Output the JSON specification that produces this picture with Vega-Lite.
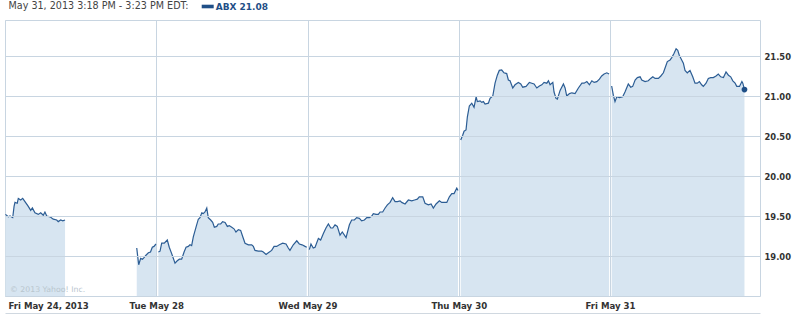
{
  "$schema": "https://vega.github.io/schema/vega-lite/v6.json",
  "width": 755,
  "height": 276,
  "autosize": {"type": "none"},
  "padding": {"left": 5, "top": 20, "right": 35, "bottom": 18},
  "background": "white",
  "config": {
    "view": {"stroke": "#c8d5e1", "strokeWidth": 1},
    "font": "DejaVu Sans"
  },
  "title": {
    "text": "May 31, 2013 3:18 PM - 3:23 PM EDT:",
    "anchor": "start",
    "frame": "group",
    "font": "DejaVu Sans",
    "fontSize": 9.6,
    "fontWeight": "normal",
    "color": "#444444",
    "baseline": "alphabetic",
    "offset": -18.5,
    "dx": 3.5
  },
  "datasets": {
    "abx": [
      {"seg":"a","t":0.003,"price":19.52},{"seg":"a","t":0.022,"price":19.49},{"seg":"a","t":0.033,"price":19.50},{"seg":"a","t":0.051,"price":19.48},{"seg":"a","t":0.060,"price":19.62},{"seg":"a","t":0.066,"price":19.67},{"seg":"a","t":0.081,"price":19.66},{"seg":"a","t":0.088,"price":19.72},{"seg":"a","t":0.104,"price":19.70},{"seg":"a","t":0.117,"price":19.72},{"seg":"a","t":0.132,"price":19.68},{"seg":"a","t":0.154,"price":19.62},{"seg":"a","t":0.170,"price":19.57},{"seg":"a","t":0.181,"price":19.60},{"seg":"a","t":0.198,"price":19.54},{"seg":"a","t":0.220,"price":19.52},{"seg":"a","t":0.236,"price":19.54},{"seg":"a","t":0.253,"price":19.51},{"seg":"a","t":0.264,"price":19.55},{"seg":"a","t":0.276,"price":19.50},{"seg":"a","t":0.298,"price":19.49},{"seg":"a","t":0.319,"price":19.46},{"seg":"a","t":0.342,"price":19.45},{"seg":"a","t":0.352,"price":19.43},{"seg":"a","t":0.368,"price":19.45},{"seg":"a","t":0.382,"price":19.44},{"seg":"a","t":0.397,"price":19.45},
      {"seg":"b","t":0.871,"price":19.10},{"seg":"b","t":0.884,"price":18.89},{"seg":"b","t":0.897,"price":18.97},{"seg":"b","t":0.909,"price":18.96},{"seg":"b","t":0.919,"price":18.98},{"seg":"b","t":0.932,"price":19.01},{"seg":"b","t":0.948,"price":19.04},{"seg":"b","t":0.962,"price":19.05},{"seg":"b","t":0.974,"price":19.11},{"seg":"b","t":0.985,"price":19.12},{"seg":"b","t":0.998,"price":19.15},
      {"seg":"c","t":1.014,"price":19.05},{"seg":"c","t":1.025,"price":19.06},{"seg":"c","t":1.036,"price":19.16},{"seg":"c","t":1.053,"price":19.16},{"seg":"c","t":1.073,"price":19.20},{"seg":"c","t":1.086,"price":19.11},{"seg":"c","t":1.102,"price":19.03},{"seg":"c","t":1.124,"price":18.91},{"seg":"c","t":1.139,"price":18.94},{"seg":"c","t":1.153,"price":18.96},{"seg":"c","t":1.168,"price":18.96},{"seg":"c","t":1.184,"price":19.05},{"seg":"c","t":1.197,"price":19.11},{"seg":"c","t":1.212,"price":19.12},{"seg":"c","t":1.223,"price":19.14},{"seg":"c","t":1.234,"price":19.13},{"seg":"c","t":1.245,"price":19.24},{"seg":"c","t":1.263,"price":19.36},{"seg":"c","t":1.278,"price":19.46},{"seg":"c","t":1.289,"price":19.48},{"seg":"c","t":1.301,"price":19.54},{"seg":"c","t":1.311,"price":19.53},{"seg":"c","t":1.322,"price":19.55},{"seg":"c","t":1.334,"price":19.60},{"seg":"c","t":1.344,"price":19.48},{"seg":"c","t":1.360,"price":19.45},{"seg":"c","t":1.373,"price":19.42},{"seg":"c","t":1.384,"price":19.36},{"seg":"c","t":1.400,"price":19.37},{"seg":"c","t":1.410,"price":19.40},{"seg":"c","t":1.426,"price":19.40},{"seg":"c","t":1.439,"price":19.43},{"seg":"c","t":1.455,"price":19.42},{"seg":"c","t":1.470,"price":19.37},{"seg":"c","t":1.483,"price":19.38},{"seg":"c","t":1.499,"price":19.36},{"seg":"c","t":1.514,"price":19.34},{"seg":"c","t":1.527,"price":19.30},{"seg":"c","t":1.543,"price":19.33},{"seg":"c","t":1.558,"price":19.32},{"seg":"c","t":1.572,"price":19.24},{"seg":"c","t":1.587,"price":19.16},{"seg":"c","t":1.609,"price":19.14},{"seg":"c","t":1.631,"price":19.14},{"seg":"c","t":1.642,"price":19.12},{"seg":"c","t":1.653,"price":19.07},{"seg":"c","t":1.675,"price":19.06},{"seg":"c","t":1.697,"price":19.06},{"seg":"c","t":1.708,"price":19.05},{"seg":"c","t":1.726,"price":19.02},{"seg":"c","t":1.741,"price":19.04},{"seg":"c","t":1.763,"price":19.07},{"seg":"c","t":1.779,"price":19.12},{"seg":"c","t":1.796,"price":19.12},{"seg":"c","t":1.814,"price":19.14},{"seg":"c","t":1.836,"price":19.16},{"seg":"c","t":1.858,"price":19.15},{"seg":"c","t":1.873,"price":19.10},{"seg":"c","t":1.884,"price":19.07},{"seg":"c","t":1.906,"price":19.14},{"seg":"c","t":1.929,"price":19.19},{"seg":"c","t":1.946,"price":19.15},{"seg":"c","t":1.964,"price":19.14},{"seg":"c","t":1.984,"price":19.12},{"seg":"c","t":1.995,"price":19.11},
      {"seg":"d","t":2.012,"price":19.08},{"seg":"d","t":2.023,"price":19.15},{"seg":"d","t":2.038,"price":19.10},{"seg":"d","t":2.050,"price":19.11},{"seg":"d","t":2.072,"price":19.22},{"seg":"d","t":2.087,"price":19.20},{"seg":"d","t":2.105,"price":19.28},{"seg":"d","t":2.122,"price":19.35},{"seg":"d","t":2.138,"price":19.40},{"seg":"d","t":2.154,"price":19.35},{"seg":"d","t":2.167,"price":19.35},{"seg":"d","t":2.182,"price":19.39},{"seg":"d","t":2.197,"price":19.37},{"seg":"d","t":2.215,"price":19.26},{"seg":"d","t":2.230,"price":19.30},{"seg":"d","t":2.255,"price":19.23},{"seg":"d","t":2.277,"price":19.39},{"seg":"d","t":2.292,"price":19.45},{"seg":"d","t":2.310,"price":19.45},{"seg":"d","t":2.325,"price":19.48},{"seg":"d","t":2.343,"price":19.47},{"seg":"d","t":2.358,"price":19.44},{"seg":"d","t":2.376,"price":19.45},{"seg":"d","t":2.392,"price":19.48},{"seg":"d","t":2.409,"price":19.48},{"seg":"d","t":2.425,"price":19.50},{"seg":"d","t":2.435,"price":19.53},{"seg":"d","t":2.453,"price":19.52},{"seg":"d","t":2.468,"price":19.52},{"seg":"d","t":2.480,"price":19.55},{"seg":"d","t":2.497,"price":19.55},{"seg":"d","t":2.513,"price":19.60},{"seg":"d","t":2.528,"price":19.64},{"seg":"d","t":2.546,"price":19.67},{"seg":"d","t":2.563,"price":19.73},{"seg":"d","t":2.579,"price":19.68},{"seg":"d","t":2.594,"price":19.68},{"seg":"d","t":2.612,"price":19.69},{"seg":"d","t":2.623,"price":19.67},{"seg":"d","t":2.645,"price":19.65},{"seg":"d","t":2.667,"price":19.70},{"seg":"d","t":2.689,"price":19.69},{"seg":"d","t":2.708,"price":19.70},{"seg":"d","t":2.726,"price":19.71},{"seg":"d","t":2.739,"price":19.74},{"seg":"d","t":2.762,"price":19.74},{"seg":"d","t":2.777,"price":19.66},{"seg":"d","t":2.799,"price":19.64},{"seg":"d","t":2.817,"price":19.65},{"seg":"d","t":2.832,"price":19.60},{"seg":"d","t":2.850,"price":19.65},{"seg":"d","t":2.872,"price":19.69},{"seg":"d","t":2.887,"price":19.67},{"seg":"d","t":2.921,"price":19.67},{"seg":"d","t":2.938,"price":19.74},{"seg":"d","t":2.954,"price":19.78},{"seg":"d","t":2.969,"price":19.78},{"seg":"d","t":2.987,"price":19.85},{"seg":"d","t":2.995,"price":19.82},
      {"seg":"e","t":3.013,"price":20.45},{"seg":"e","t":3.026,"price":20.51},{"seg":"e","t":3.035,"price":20.56},{"seg":"e","t":3.048,"price":20.575},{"seg":"e","t":3.057,"price":20.74},{"seg":"e","t":3.070,"price":20.875},{"seg":"e","t":3.086,"price":20.91},{"seg":"e","t":3.101,"price":20.86},{"seg":"e","t":3.115,"price":20.99},{"seg":"e","t":3.123,"price":20.93},{"seg":"e","t":3.141,"price":20.94},{"seg":"e","t":3.152,"price":20.92},{"seg":"e","t":3.163,"price":20.93},{"seg":"e","t":3.174,"price":20.90},{"seg":"e","t":3.196,"price":20.91},{"seg":"e","t":3.207,"price":20.97},{"seg":"e","t":3.225,"price":21.00},{"seg":"e","t":3.240,"price":21.16},{"seg":"e","t":3.255,"price":21.26},{"seg":"e","t":3.268,"price":21.32},{"seg":"e","t":3.284,"price":21.325},{"seg":"e","t":3.299,"price":21.29},{"seg":"e","t":3.317,"price":21.28},{"seg":"e","t":3.328,"price":21.20},{"seg":"e","t":3.339,"price":21.19},{"seg":"e","t":3.357,"price":21.10},{"seg":"e","t":3.372,"price":21.14},{"seg":"e","t":3.394,"price":21.17},{"seg":"e","t":3.410,"price":21.15},{"seg":"e","t":3.423,"price":21.11},{"seg":"e","t":3.445,"price":21.12},{"seg":"e","t":3.467,"price":21.17},{"seg":"e","t":3.483,"price":21.16},{"seg":"e","t":3.498,"price":21.15},{"seg":"e","t":3.516,"price":21.10},{"seg":"e","t":3.533,"price":21.125},{"seg":"e","t":3.549,"price":21.14},{"seg":"e","t":3.564,"price":21.17},{"seg":"e","t":3.582,"price":21.16},{"seg":"e","t":3.593,"price":21.19},{"seg":"e","t":3.604,"price":21.14},{"seg":"e","t":3.622,"price":21.17},{"seg":"e","t":3.630,"price":21.05},{"seg":"e","t":3.643,"price":20.97},{"seg":"e","t":3.652,"price":20.96},{"seg":"e","t":3.670,"price":21.07},{"seg":"e","t":3.692,"price":21.15},{"seg":"e","t":3.703,"price":21.10},{"seg":"e","t":3.714,"price":21.00},{"seg":"e","t":3.732,"price":21.03},{"seg":"e","t":3.748,"price":21.04},{"seg":"e","t":3.769,"price":21.03},{"seg":"e","t":3.791,"price":21.10},{"seg":"e","t":3.814,"price":21.16},{"seg":"e","t":3.829,"price":21.16},{"seg":"e","t":3.847,"price":21.18},{"seg":"e","t":3.864,"price":21.14},{"seg":"e","t":3.880,"price":21.19},{"seg":"e","t":3.895,"price":21.17},{"seg":"e","t":3.913,"price":21.18},{"seg":"e","t":3.930,"price":21.21},{"seg":"e","t":3.945,"price":21.25},{"seg":"e","t":3.961,"price":21.275},{"seg":"e","t":3.979,"price":21.29},{"seg":"e","t":3.994,"price":21.275},
      {"seg":"f","t":4.011,"price":21.125},{"seg":"f","t":4.022,"price":21.01},{"seg":"f","t":4.033,"price":20.93},{"seg":"f","t":4.045,"price":20.99},{"seg":"f","t":4.062,"price":20.98},{"seg":"f","t":4.084,"price":20.99},{"seg":"f","t":4.099,"price":21.05},{"seg":"f","t":4.121,"price":21.15},{"seg":"f","t":4.137,"price":21.11},{"seg":"f","t":4.150,"price":21.12},{"seg":"f","t":4.166,"price":21.20},{"seg":"f","t":4.181,"price":21.23},{"seg":"f","t":4.199,"price":21.24},{"seg":"f","t":4.210,"price":21.20},{"seg":"f","t":4.232,"price":21.18},{"seg":"f","t":4.253,"price":21.19},{"seg":"f","t":4.269,"price":21.22},{"seg":"f","t":4.283,"price":21.24},{"seg":"f","t":4.298,"price":21.22},{"seg":"f","t":4.320,"price":21.22},{"seg":"f","t":4.336,"price":21.25},{"seg":"f","t":4.353,"price":21.29},{"seg":"f","t":4.364,"price":21.35},{"seg":"f","t":4.379,"price":21.43},{"seg":"f","t":4.397,"price":21.45},{"seg":"f","t":4.408,"price":21.48},{"seg":"f","t":4.423,"price":21.53},{"seg":"f","t":4.437,"price":21.59},{"seg":"f","t":4.448,"price":21.57},{"seg":"f","t":4.458,"price":21.51},{"seg":"f","t":4.474,"price":21.45},{"seg":"f","t":4.485,"price":21.41},{"seg":"f","t":4.496,"price":21.32},{"seg":"f","t":4.511,"price":21.29},{"seg":"f","t":4.529,"price":21.32},{"seg":"f","t":4.547,"price":21.24},{"seg":"f","t":4.562,"price":21.16},{"seg":"f","t":4.577,"price":21.16},{"seg":"f","t":4.591,"price":21.18},{"seg":"f","t":4.606,"price":21.14},{"seg":"f","t":4.617,"price":21.12},{"seg":"f","t":4.635,"price":21.16},{"seg":"f","t":4.650,"price":21.22},{"seg":"f","t":4.666,"price":21.23},{"seg":"f","t":4.683,"price":21.23},{"seg":"f","t":4.701,"price":21.25},{"seg":"f","t":4.716,"price":21.275},{"seg":"f","t":4.732,"price":21.24},{"seg":"f","t":4.750,"price":21.23},{"seg":"f","t":4.767,"price":21.30},{"seg":"f","t":4.783,"price":21.26},{"seg":"f","t":4.798,"price":21.24},{"seg":"f","t":4.812,"price":21.19},{"seg":"f","t":4.827,"price":21.16},{"seg":"f","t":4.838,"price":21.12},{"seg":"f","t":4.856,"price":21.12},{"seg":"f","t":4.872,"price":21.18},{"seg":"f","t":4.878,"price":21.16},{"seg":"f","t":4.889,"price":21.08}
    ],
    "credit": [{"t": 0.033, "price": 18.55, "label": "© 2013 Yahoo! Inc."}]
  },
  "data": {"name": "abx"},
  "encoding": {
    "x": {
      "field": "t",
      "type": "quantitative",
      "scale": {"domain": [0, 4.9917], "nice": false, "zero": false},
      "axis": {
        "values": [0, 1, 2, 3, 4],
        "title": null,
        "grid": true,
        "gridColor": "#c8d5e1",
        "gridWidth": 1,
        "domain": true,
        "domainColor": "#d0d8e0",
        "offset": 17,
        "ticks": false,
        "tickSize": 0,
        "labelExpr": "['Fri May 24, 2013','Tue May 28','Wed May 29','Thu May 30','Fri May 31'][datum.value]",
        "labelAlign": {"condition": {"test": "datum.value == 0", "value": "left"}, "value": "center"},
        "labelOffset": {"condition": {"test": "datum.value == 0", "value": 3}, "value": 0},
        "labelBaseline": "alphabetic",
        "labelPadding": -4.5,
        "labelFont": "DejaVu Sans",
        "labelFontSize": 8.6,
        "labelFontWeight": "bold",
        "labelColor": "#333333",
        "labelFlush": false,
        "labelOverlap": false,
        "zindex": 0
      }
    },
    "y": {
      "field": "price",
      "type": "quantitative",
      "stack": null,
      "scale": {"domain": [18.5, 21.95], "nice": false, "zero": false},
      "axis": {
        "orient": "right",
        "values": [19, 19.5, 20, 20.5, 21, 21.5],
        "format": ".2f",
        "title": null,
        "grid": true,
        "gridColor": "#c8d5e1",
        "gridWidth": 1,
        "domain": false,
        "ticks": false,
        "labelPadding": 4,
        "labelFont": "DejaVu Sans",
        "labelFontSize": 8.4,
        "labelFontWeight": "bold",
        "labelColor": "#333333",
        "labelBaseline": "middle",
        "zindex": 1
      }
    }
  },
  "layer": [
    {
      "mark": {"type": "area", "color": "#d7e5f1", "opacity": 1, "clip": true},
      "encoding": {"detail": {"field": "seg", "type": "nominal"}}
    },
    {
      "mark": {"type": "line", "color": "#2c5d94", "strokeWidth": 1.2, "clip": true},
      "encoding": {"detail": {"field": "seg", "type": "nominal"}}
    },
    {
      "data": {"name": "credit"},
      "mark": {"type": "text", "align": "left", "baseline": "alphabetic", "font": "DejaVu Sans", "fontSize": 7.8, "color": "#b9c5ce"},
      "encoding": {"text": {"field": "label", "type": "nominal"}}
    },
    {
      "transform": [{"filter": "datum.t > 4.885"}],
      "mark": {"type": "point", "filled": true, "size": 32, "opacity": 1},
      "encoding": {
        "color": {
          "datum": "ABX 21.08",
          "scale": {"range": ["#1f4f87"]},
          "legend": {
            "orient": "none",
            "legendX": 196.7,
            "legendY": -19.5,
            "title": null,
            "padding": 0,
            "symbolType": "M-1,-0.3H1V0.3H-1Z",
            "symbolSize": 144,
            "symbolStrokeWidth": 0,
            "symbolOpacity": 1,
            "labelFont": "DejaVu Sans",
            "labelFontSize": 9,
            "labelFontWeight": "bold",
            "labelColor": "#1f4f87",
            "labelOffset": 2
          }
        }
      }
    }
  ]
}
